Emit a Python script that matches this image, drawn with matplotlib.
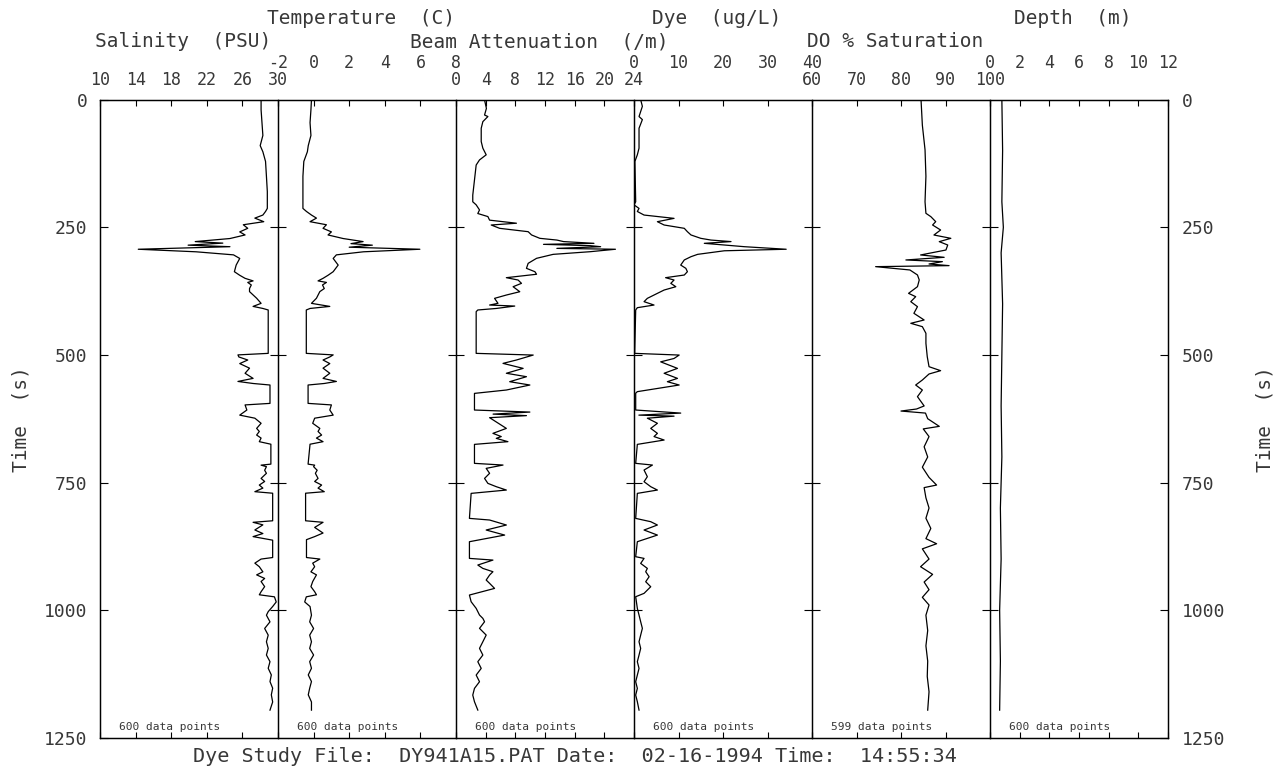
import matplotlib
matplotlib.use("Agg")
import matplotlib.pyplot as plt

plt.rcParams["font.family"] = ["DejaVu Sans Mono"]

# ---- profile data: time (s) and value ----
sal_t = [0, 20, 45, 70, 90, 102, 121, 150, 180, 213, 219, 226, 232, 239, 245, 252,
         259, 265, 272, 278, 281, 285, 288, 293, 298, 304, 311, 324, 337, 344, 350,
         355, 358, 363, 370, 376, 389, 399, 405, 409, 412, 497, 500, 504, 510, 517,
         526, 536, 546, 552, 556, 559, 595, 598, 608, 618, 624, 634, 644, 650, 657,
         663, 670, 675, 714, 716, 719, 726, 732, 742, 748, 755, 761, 768, 771, 825,
         828, 833, 843, 850, 856, 863, 897, 900, 908, 915, 925, 931, 938, 944, 954,
         964, 970, 974, 984, 993, 1003, 1010, 1023, 1036, 1049, 1062, 1075, 1088,
         1101, 1114, 1127, 1140, 1153, 1166, 1180, 1196]
sal_v = [28.1, 28.1, 28.2, 28.3, 28.0, 28.3, 28.6, 28.7, 28.8, 28.8, 28.6, 28.3, 27.4,
         28.4, 26.1, 26.6, 25.7, 26.3, 24.6, 20.7, 23.8, 19.9, 24.6, 14.3, 20.8, 25.0,
         25.7, 25.3, 25.1, 25.7, 26.3, 27.2, 26.6, 27.0, 26.8, 26.8, 27.6, 28.1, 27.2,
         28.3, 28.9, 28.9, 25.5, 25.6, 26.6, 25.7, 26.8, 26.3, 27.2, 25.5, 27.2, 29.1,
         29.1, 26.3, 26.5, 25.7, 27.4, 28.1, 27.6, 27.9, 27.6, 28.1, 27.9, 29.2, 29.2,
         28.1, 28.7, 28.5, 28.7, 28.1, 28.5, 27.9, 28.3, 27.4, 29.4, 29.4, 27.2, 28.3,
         27.4, 28.3, 27.2, 29.4, 29.4, 28.1, 27.4, 27.9, 28.3, 27.6, 28.5, 28.1, 28.5,
         28.1, 27.9, 29.6, 29.8, 29.4, 28.9, 28.7, 29.1, 28.5, 28.9, 28.7, 28.9, 28.7,
         29.1, 28.9, 29.25, 29.1, 29.4, 29.25, 29.4, 29.1]

temp_t = [0, 20, 45, 70, 90, 102, 121, 150, 180, 213, 219, 226, 232, 239, 245, 252,
          259, 265, 272, 278, 282, 285, 289, 293, 298, 304, 311, 324, 337, 344, 350,
          355, 358, 363, 370, 376, 389, 399, 405, 409, 412, 497, 500, 504, 510, 517,
          526, 536, 546, 552, 556, 559, 595, 598, 608, 618, 624, 634, 644, 650, 657,
          663, 670, 675, 714, 716, 719, 726, 732, 742, 748, 755, 761, 768, 771, 825,
          828, 838, 849, 856, 862, 897, 900, 908, 915, 925, 931, 944, 954, 964, 970,
          974, 984, 993, 1010, 1023, 1036, 1049, 1062, 1075, 1088, 1101, 1114, 1127,
          1140, 1153, 1166, 1180, 1196]
temp_v = [-0.12, -0.15, -0.2, -0.15, -0.3, -0.35, -0.55, -0.6, -0.6, -0.6, -0.4, -0.12,
          0.16, -0.2, 0.72, 0.53, 1.0, 0.81, 1.66, 2.78, 2.1, 3.3, 2.0, 5.97, 2.8, 1.28,
          1.1, 1.38, 1.1, 0.81, 0.53, 0.25, 0.72, 0.5, 0.6, 0.35, 0.16, -0.12, 0.91,
          -0.2, -0.41, -0.41, 1.1, 0.91, 0.53, 0.91, 0.53, 0.91, 0.53, 1.28, 0.6, -0.31,
          -0.31, 1.0, 0.91, 1.1, 0.06, -0.05, 0.35, 0.25, 0.45, 0.16, 0.53, -0.2, -0.31,
          0.06, 0.0, 0.2, 0.1, 0.25, 0.06, 0.45, 0.25, 0.6, -0.45, -0.45, 0.53, 0.06,
          0.53, 0.06, -0.4, -0.4, 0.35, -0.05, 0.06, -0.15, 0.16, -0.05, -0.15, 0.06,
          0.16, -0.41, -0.5, -0.2, -0.12, -0.22, 0.0, -0.22, -0.12, -0.22, 0.0, -0.22,
          -0.12, -0.3, -0.12, -0.22, -0.3, -0.12, -0.12]

beam_t = [0, 4, 17, 30, 33, 43, 56, 82, 95, 108, 118, 128, 187, 200, 206, 216, 223,
          229, 236, 242, 245.5, 252, 258.6, 265, 271.6, 275, 278, 281.4, 283.4, 286,
          288, 291.3, 293, 297.8, 303, 310.8, 320.6, 330.4, 337, 342, 348.7, 353.3,
          359.8, 366.4, 376.2, 382.7, 389.2, 399, 402.3, 404.3, 409, 412, 415.3, 497,
          500.3, 510, 516.6, 526.4, 536, 542.7, 552.5, 559, 568.8, 575.4, 608, 612,
          616, 619, 623, 644, 653.7, 660, 663.5, 670, 675.3, 712.5, 715.8, 722.3, 732,
          742, 751.7, 758.2, 764.8, 771.3, 820.3, 823.5, 833.3, 843.1, 853, 866, 898.7,
          902, 911.7, 918.3, 924.8, 931.3, 941.1, 947.6, 957.5, 970.5, 983.6, 996.6,
          1009.7, 1016.2, 1022.8, 1035.8, 1048.9, 1062, 1075, 1088.1, 1101.1, 1114.2,
          1127.3, 1140.3, 1153.4, 1166.5, 1179.5, 1195.9]
beam_v = [3.85, 3.9, 4.1, 3.85, 4.3, 3.62, 3.4, 3.4, 3.62, 4.07, 3.17, 2.72, 2.26, 2.26,
          2.72, 3.17, 2.94, 4.3, 4.53, 8.15, 4.75, 5.88, 9.73, 10.19, 11.3, 13.6, 14.5,
          18.6, 11.8, 18.1, 19.5, 13.6, 21.5, 18.1, 13.1, 10.86, 9.73, 9.5, 10.64, 10.86,
          6.79, 8.37, 8.83, 7.7, 8.6, 6.79, 5.2, 5.66, 4.53, 7.92, 5.43, 2.94, 2.72, 2.72,
          10.41, 8.15, 6.34, 9.05, 6.79, 9.5, 7.24, 9.96, 6.79, 2.49, 2.49, 9.96, 5.0,
          9.5, 4.53, 6.79, 4.98, 6.1, 5.43, 7.0, 2.49, 2.49, 6.34, 4.07, 4.53, 3.85, 4.3,
          5.43, 6.79, 2.04, 1.81, 4.53, 6.79, 4.07, 6.56, 1.81, 1.81, 4.98, 2.94, 3.62,
          4.98, 4.53, 4.07, 4.53, 5.2, 1.81, 2.04, 2.72, 3.17, 3.62, 3.85, 3.17, 4.07,
          3.62, 3.17, 3.62, 2.94, 3.4, 2.72, 3.17, 2.49, 2.26, 2.49, 2.94]

dye_t = [0, 13, 33, 39, 56, 95, 108, 121, 200, 206, 213, 219, 226, 232.5, 239, 245.5,
         252, 258.6, 265, 271.6, 275, 278, 281.4, 284.7, 288, 293, 296, 303, 307.6, 314,
         324, 330.4, 337, 343.5, 348.7, 353.3, 359.8, 366.4, 372.9, 379.4, 389.2, 395.7,
         402.3, 407.5, 412, 497, 500.3, 507, 513.6, 526.4, 536, 546, 552.5, 559, 572,
         575, 608, 614, 618, 620, 624, 634, 644, 653.7, 660, 666.8, 675.3, 712.5, 715.8,
         725.6, 738.6, 748.4, 758.2, 764.8, 771.3, 820.3, 826.8, 833.3, 843.1, 853, 866,
         895.4, 898.7, 908.5, 918.3, 924.8, 934.6, 944.4, 954.2, 967.2, 973.8, 996.6,
         1009.7, 1022.8, 1035.8, 1048.9, 1062, 1075, 1088.1, 1101.1, 1114.2, 1127.3,
         1140.3, 1153.4, 1166.5, 1179.5, 1195.9]
dye_v = [1.5, 1.88, 1.13, 1.88, 1.13, 1.13, 0.75, 0.2, 0.38, 0.0, 1.13, 0.75, 2.26, 9.0,
         5.26, 6.77, 11.3, 12.0, 12.8, 15.0, 17.3, 21.8, 15.8, 20.3, 24.8, 34.2, 20.3,
         14.3, 12.8, 11.3, 10.5, 11.65, 12.0, 11.3, 7.1, 9.0, 8.27, 9.4, 6.77, 5.26, 3.0,
         2.26, 4.5, 0.75, 0.38, 0.15, 10.15, 9.0, 6.0, 9.77, 6.77, 9.77, 7.5, 10.15, 0.75,
         0.38, 0.38, 10.5, 1.1, 9.0, 3.0, 5.26, 3.76, 5.26, 4.5, 6.77, 0.75, 0.38, 4.14,
         2.26, 3.0, 2.26, 3.76, 5.26, 0.75, 0.38, 3.76, 5.26, 2.26, 5.26, 0.75, 0.38,
         2.26, 1.5, 3.0, 2.63, 3.4, 2.63, 3.76, 2.26, 0.38, 0.75, 1.13, 1.5, 1.88, 1.5,
         1.13, 1.5, 1.13, 0.75, 1.13, 0.75, 0.38, 0.75, 0.38, 0.75, 1.13]

do_t = [0, 50, 98, 150, 200, 222.6, 229.1, 238.9, 245.5, 255.3, 265.1, 271.6, 278.1,
        284.7, 294.5, 304.2, 308.8, 314, 317.3, 321.9, 325.1, 327.1, 333.6, 343.4,
        353.2, 366.3, 379.4, 385.9, 395.7, 405.5, 418.5, 431.6, 438.1, 444.7, 457.7,
        477.3, 503.5, 523.1, 530.9, 537.4, 549.2, 559, 568.8, 581.8, 600, 606, 610, 614,
        625, 640, 645, 660, 680, 700, 720, 740, 755, 760, 780, 800, 820, 840, 860, 870,
        880, 900, 915, 930, 945, 960, 975, 990, 1010, 1040, 1070, 1100, 1130, 1160, 1196]
do_v = [84.5, 84.8, 85.4, 85.6, 85.4, 85.6, 86.7, 87.8, 87.1, 88.9, 87.4, 91.2, 88.6,
        90.5, 90.1, 84.4, 89.7, 81.1, 89.3, 86.3, 90.8, 74.3, 82.0, 83.7, 84.1, 83.7,
        81.7, 83.3, 82.2, 83.7, 82.9, 85.2, 82.2, 84.8, 85.6, 85.6, 85.9, 86.3, 88.9,
        86.3, 84.8, 83.3, 84.8, 83.7, 85.2, 83.5, 80.0, 85.5, 86.0, 88.6, 85.0, 86.3,
        85.2, 86.0, 84.8, 86.3, 88.0, 85.2, 85.6, 86.3, 85.6, 86.7, 85.6, 88.0, 84.8,
        86.3, 84.4, 87.1, 85.2, 86.3, 84.8, 86.3, 85.6, 86.0, 85.6, 86.0, 85.9, 86.3, 86.0]

depth_t = [0, 100, 200, 250, 300, 400, 500, 600, 700, 800, 900, 1000, 1100, 1196]
depth_v = [0.8, 0.85, 0.8, 0.9, 0.75, 0.85, 0.8, 0.75, 0.8, 0.7, 0.75, 0.65, 0.7, 0.65]

time_ticks = [0, 250, 500, 750, 1000, 1250]

panels = [
    (sal_t, sal_v, (10, 30), [10, 14, 18, 22, 26, 30], "Salinity  (PSU)", "low", 600),
    (temp_t, temp_v, (-2, 8), [-2, 0, 2, 4, 6, 8], "Temperature  (C)", "high", 600),
    (beam_t, beam_v, (0, 24), [0, 4, 8, 12, 16, 20, 24], "Beam Attenuation  (/m)", "low", 600),
    (dye_t, dye_v, (0, 40), [0, 10, 20, 30, 40], "Dye  (ug/L)", "high", 600),
    (do_t, do_v, (60, 100), [60, 70, 80, 90, 100], "DO % Saturation", "low", 599),
    (depth_t, depth_v, (0, 12), [0, 2, 4, 6, 8, 10, 12], "Depth  (m)", "high", 600),
]

TXT = "#383838"
W_PX, H_PX = 1286, 770
fig = plt.figure(figsize=(W_PX / 100, H_PX / 100), dpi=100)

left, right = 100 / W_PX, 1168 / W_PX
bottom, top = 1 - 737.7 / H_PX, 1 - 99.7 / H_PX
pw = (right - left) / 6

# outer frame carries the time axis on both sides
frame = fig.add_axes([left, bottom, right - left, top - bottom])
frame.set_ylim(1250, 0)
frame.set_xticks([])
frame.set_yticks(time_ticks)
frame.tick_params(axis="y", direction="in", length=6, width=0.8, labelsize=13,
                  labelcolor=TXT, pad=9)
frame.set_ylabel("Time  (s)", fontsize=14, color=TXT, labelpad=10)
frame.patch.set_visible(False)
for s in frame.spines.values():
    s.set_linewidth(0.9)

frame_r = frame.twinx()
frame_r.set_ylim(1250, 0)
frame_r.set_yticks(time_ticks)
frame_r.tick_params(axis="y", direction="in", length=6, width=0.8, labelsize=13,
                    labelcolor=TXT, pad=10)
frame_r.set_ylabel("Time  (s)", fontsize=14, color=TXT, labelpad=22, rotation=90)
for s in frame_r.spines.values():
    s.set_visible(False)

for i, (tt, vv, lim, ticks, title, row, npts) in enumerate(panels):
    ax = fig.add_axes([left + i * pw, bottom, pw, top - bottom])
    ax.patch.set_visible(False)
    ax.plot(vv, tt, color="black", lw=0.9)
    ax.set_xlim(*lim)
    ax.set_ylim(1250, 0)

    ax.set_yticks([250, 500, 750, 1000])
    ax.tick_params(axis="y", direction="inout", length=0 if i == 0 else 11,
                   width=0.8, labelleft=False)

    ax.set_xticks(ticks)
    ax.set_xticklabels([str(t) for t in ticks])
    ax.tick_params(axis="x", top=True, bottom=True, labeltop=True, labelbottom=False,
                   direction="in", length=4, width=0.8, labelsize=12,
                   labelcolor=TXT, pad=20 if row == "high" else 8)
    for s in ax.spines.values():
        s.set_linewidth(0.9)

    title_off = 81 if row == "high" else 58
    ax.annotate(title, xy=(0.5, 1), xycoords="axes fraction", xytext=(-6, title_off),
                textcoords="offset pixels", ha="center", va="center",
                fontsize=14, color=TXT)

    ax.annotate(f"{npts} data points", xy=(0, 0), xycoords="axes fraction",
                xytext=(19, 6), textcoords="offset pixels", ha="left", va="bottom",
                fontsize=8, color=TXT)

fig.text(575 / W_PX, 1 - 757 / H_PX,
         "Dye Study File:  DY941A15.PAT Date:  02-16-1994 Time:  14:55:34",
         ha="center", va="center", fontsize=14.5, color=TXT)

fig.savefig("out.png", dpi=100)
